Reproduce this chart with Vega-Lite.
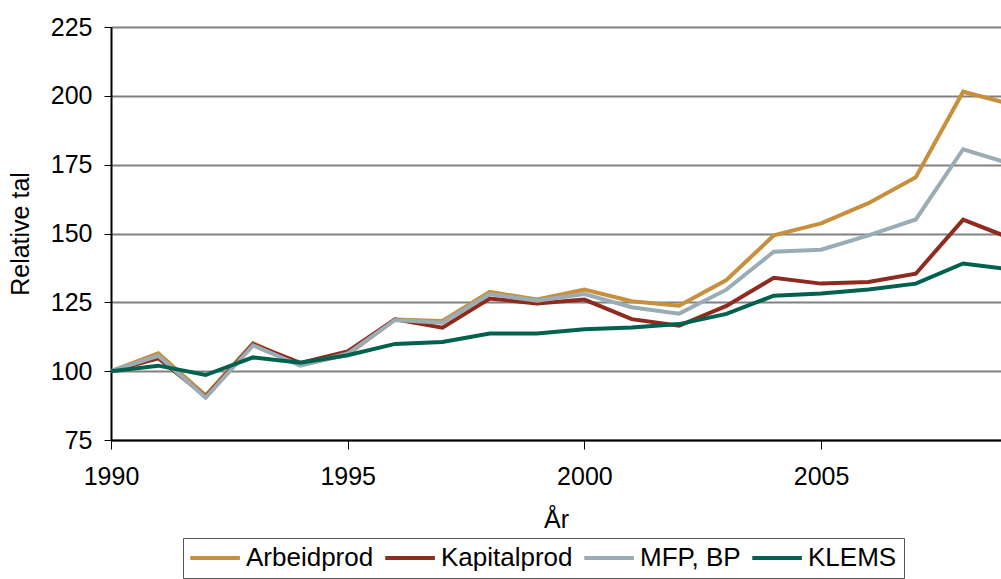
{
  "$schema": "https://vega.github.io/schema/vega-lite/v6.json",
  "width": 890,
  "height": 413,
  "autosize": "none",
  "padding": {"left": 111, "top": 27, "right": 0, "bottom": 139},
  "background": "white",
  "config": {
    "view": {"stroke": "#000", "strokeWidth": 1},
    "font": "Liberation Sans",
    "axis": {"labelFont": "Liberation Sans", "titleFont": "Liberation Sans", "labelColor": "#000", "titleColor": "#000", "titleFontWeight": "normal"}
  },
  "data": {
    "values": [
      {"year": 1990, "series": "Arbeidprod", "value": 100},
      {"year": 1991, "series": "Arbeidprod", "value": 106.5},
      {"year": 1992, "series": "Arbeidprod", "value": 91.2},
      {"year": 1993, "series": "Arbeidprod", "value": 110.2},
      {"year": 1994, "series": "Arbeidprod", "value": 102.2},
      {"year": 1995, "series": "Arbeidprod", "value": 106},
      {"year": 1996, "series": "Arbeidprod", "value": 118.8},
      {"year": 1997, "series": "Arbeidprod", "value": 118.2},
      {"year": 1998, "series": "Arbeidprod", "value": 128.8},
      {"year": 1999, "series": "Arbeidprod", "value": 126},
      {"year": 2000, "series": "Arbeidprod", "value": 129.6},
      {"year": 2001, "series": "Arbeidprod", "value": 125.4},
      {"year": 2002, "series": "Arbeidprod", "value": 123.8},
      {"year": 2003, "series": "Arbeidprod", "value": 133.1},
      {"year": 2004, "series": "Arbeidprod", "value": 149.3},
      {"year": 2005, "series": "Arbeidprod", "value": 153.7},
      {"year": 2006, "series": "Arbeidprod", "value": 161},
      {"year": 2007, "series": "Arbeidprod", "value": 170.4},
      {"year": 2008, "series": "Arbeidprod", "value": 201.5},
      {"year": 2009, "series": "Arbeidprod", "value": 197},
      {"year": 1990, "series": "Kapitalprod", "value": 100},
      {"year": 1991, "series": "Kapitalprod", "value": 104.7},
      {"year": 1992, "series": "Kapitalprod", "value": 90.8},
      {"year": 1993, "series": "Kapitalprod", "value": 109.8},
      {"year": 1994, "series": "Kapitalprod", "value": 103},
      {"year": 1995, "series": "Kapitalprod", "value": 107.2},
      {"year": 1996, "series": "Kapitalprod", "value": 118.8},
      {"year": 1997, "series": "Kapitalprod", "value": 115.8},
      {"year": 1998, "series": "Kapitalprod", "value": 126.4},
      {"year": 1999, "series": "Kapitalprod", "value": 124.6},
      {"year": 2000, "series": "Kapitalprod", "value": 126},
      {"year": 2001, "series": "Kapitalprod", "value": 118.9},
      {"year": 2002, "series": "Kapitalprod", "value": 116.5},
      {"year": 2003, "series": "Kapitalprod", "value": 123.7},
      {"year": 2004, "series": "Kapitalprod", "value": 133.9},
      {"year": 2005, "series": "Kapitalprod", "value": 131.8},
      {"year": 2006, "series": "Kapitalprod", "value": 132.4},
      {"year": 2007, "series": "Kapitalprod", "value": 135.4},
      {"year": 2008, "series": "Kapitalprod", "value": 155},
      {"year": 2009, "series": "Kapitalprod", "value": 148.3},
      {"year": 1990, "series": "MFP, BP", "value": 100},
      {"year": 1991, "series": "MFP, BP", "value": 105.6},
      {"year": 1992, "series": "MFP, BP", "value": 90.4},
      {"year": 1993, "series": "MFP, BP", "value": 109.4},
      {"year": 1994, "series": "MFP, BP", "value": 102},
      {"year": 1995, "series": "MFP, BP", "value": 106.4},
      {"year": 1996, "series": "MFP, BP", "value": 118.6},
      {"year": 1997, "series": "MFP, BP", "value": 117.6},
      {"year": 1998, "series": "MFP, BP", "value": 128},
      {"year": 1999, "series": "MFP, BP", "value": 125.6},
      {"year": 2000, "series": "MFP, BP", "value": 128},
      {"year": 2001, "series": "MFP, BP", "value": 123.2},
      {"year": 2002, "series": "MFP, BP", "value": 120.9},
      {"year": 2003, "series": "MFP, BP", "value": 129.6},
      {"year": 2004, "series": "MFP, BP", "value": 143.4},
      {"year": 2005, "series": "MFP, BP", "value": 144.1},
      {"year": 2006, "series": "MFP, BP", "value": 149.3},
      {"year": 2007, "series": "MFP, BP", "value": 155.1},
      {"year": 2008, "series": "MFP, BP", "value": 180.6},
      {"year": 2009, "series": "MFP, BP", "value": 175.3},
      {"year": 1990, "series": "KLEMS", "value": 100},
      {"year": 1991, "series": "KLEMS", "value": 102},
      {"year": 1992, "series": "KLEMS", "value": 98.6},
      {"year": 1993, "series": "KLEMS", "value": 105},
      {"year": 1994, "series": "KLEMS", "value": 103.1},
      {"year": 1995, "series": "KLEMS", "value": 105.8},
      {"year": 1996, "series": "KLEMS", "value": 109.9},
      {"year": 1997, "series": "KLEMS", "value": 110.6},
      {"year": 1998, "series": "KLEMS", "value": 113.7},
      {"year": 1999, "series": "KLEMS", "value": 113.7},
      {"year": 2000, "series": "KLEMS", "value": 115.2},
      {"year": 2001, "series": "KLEMS", "value": 115.9},
      {"year": 2002, "series": "KLEMS", "value": 117.1},
      {"year": 2003, "series": "KLEMS", "value": 120.8},
      {"year": 2004, "series": "KLEMS", "value": 127.4},
      {"year": 2005, "series": "KLEMS", "value": 128.2},
      {"year": 2006, "series": "KLEMS", "value": 129.7},
      {"year": 2007, "series": "KLEMS", "value": 131.8},
      {"year": 2008, "series": "KLEMS", "value": 139.1},
      {"year": 2009, "series": "KLEMS", "value": 136.9}
    ]
  },
  "mark": {"type": "line", "strokeWidth": 4, "clip": true, "strokeJoin": "miter"},
  "encoding": {
    "x": {
      "field": "year",
      "type": "quantitative",
      "title": "År",
      "scale": {"domain": [1990, 2008.8], "nice": false, "zero": false},
      "axis": {
        "values": [1990, 1995, 2000, 2005],
        "format": "d",
        "grid": false,
        "domainColor": "#000",
        "domainWidth": 2,
        "tickColor": "#000",
        "tickWidth": 1,
        "tickSize": 9,
        "labelFontSize": 25,
        "labelPadding": 15,
        "labelFlush": false,
        "titleFontSize": 25,
        "titlePadding": 18
      }
    },
    "y": {
      "field": "value",
      "type": "quantitative",
      "title": "Relative tal",
      "scale": {"domain": [75, 225], "nice": false, "zero": false},
      "axis": {
        "values": [75, 100, 125, 150, 175, 200, 225],
        "grid": true,
        "gridColor": "#808080",
        "gridWidth": 2,
        "gridOpacity": 1,
        "domainColor": "#000",
        "domainWidth": 2,
        "tickColor": "#000",
        "tickWidth": 1,
        "tickSize": 7,
        "labelFontSize": 25,
        "labelPadding": 12,
        "titleFontSize": 25,
        "titlePadding": 17
      }
    },
    "color": {
      "field": "series",
      "type": "nominal",
      "sort": ["Arbeidprod", "Kapitalprod", "MFP, BP", "KLEMS"],
      "scale": {
        "domain": ["Arbeidprod", "Kapitalprod", "MFP, BP", "KLEMS"],
        "range": ["#C8903C", "#8E2B1E", "#9AADB6", "#00614F"]
      },
      "legend": {
        "title": null,
        "orient": "none",
        "direction": "horizontal",
        "legendX": 72,
        "legendY": 511,
        "padding": 7,
        "strokeColor": "#555",
        "symbolType": "M-2,0H5.8",
        "symbolSize": 162,
        "symbolStrokeWidth": 4,
        "symbolFillColor": "transparent",
        "labelFontSize": 26,
        "labelFont": "Liberation Sans",
        "labelColor": "#000",
        "labelOffset": 30,
        "columnPadding": 3,
        "labelLimit": 300
      }
    },
    "order": {"field": "year"}
  }
}
